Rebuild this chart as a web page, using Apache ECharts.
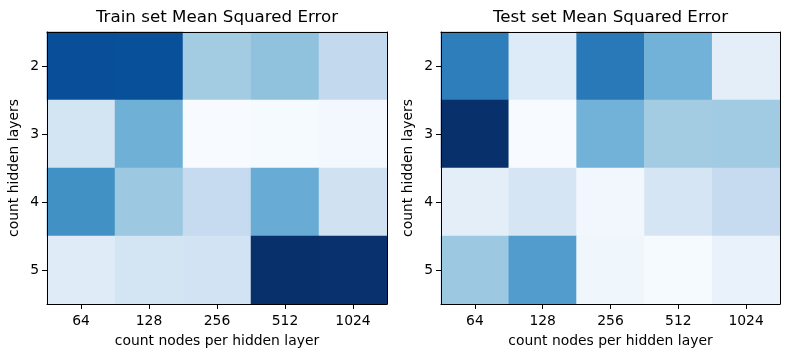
<!DOCTYPE html>
<html><head><meta charset="utf-8">
<script src="https://cdn.jsdelivr.net/npm/echarts@6/dist/echarts.min.js"></script>
<style>html,body{margin:0;padding:0;background:#fff}#c{width:790px;height:357px}</style>
</head><body><div id="c"></div>
<script>
// categories
const nodes = ['64', '128', '256', '512', '1024'];
const layers = ['2', '3', '4', '5'];
// relative MSE values (normalised, rows = hidden layers 2..5, cols = nodes)
const trainMSE = [
  [0.885, 0.88, 0.36, 0.41, 0.26],
  [0.18, 0.49, 0.00, 0.01, 0.02],
  [0.63, 0.38, 0.25, 0.51, 0.20],
  [0.12, 0.18, 0.19, 1.00, 0.995]
];
const testMSE = [
  [0.70, 0.13, 0.72, 0.48, 0.10],
  [1.00, 0.00, 0.48, 0.36, 0.37],
  [0.10, 0.17, 0.03, 0.17, 0.25],
  [0.38, 0.58, 0.04, 0.01, 0.07]
];
const titles = ['Train set Mean Squared Error', 'Test set Mean Squared Error'];
const xName = 'count nodes per hidden layer';
const yName = 'count hidden layers';
const blues = ['#f7fbff','#deebf7','#c6dbef','#9ecae1','#6baed6','#4292c6','#2171b5','#08519c','#08306b'];

function toCells(m) {
  const out = [];
  m.forEach((row, i) => row.forEach((v, j) => out.push([j, i, v])));
  return out;
}
const FONT = 'DejaVu Sans';
const grids = [
  { left: 47, top: 32, width: 340, height: 272 },
  { left: 441, top: 32, width: 339, height: 272 }
];
const mats = [trainMSE, testMSE];
const option = {
  animation: false,
  backgroundColor: '#fff',
  textStyle: { fontFamily: FONT },
  title: grids.map((g, k) => ({
    text: titles[k], left: g.left + g.width / 2, top: 9, textAlign: 'center', padding: 0,
    textStyle: { fontFamily: FONT, fontSize: 16.7, fontWeight: 'normal', color: '#000' }
  })),
  grid: grids,
  xAxis: [],
  yAxis: [],
  visualMap: [],
  series: []
};
grids.forEach((g, k) => {
  const flat = mats[k].flat();
  option.xAxis.push({
    type: 'category', data: nodes, gridIndex: k, position: 'bottom', z: 10,
    name: xName, nameLocation: 'middle', nameGap: 30,
    nameTextStyle: { fontFamily: FONT, fontSize: 13.9, color: '#000' },
    axisLine: { show: true, lineStyle: { color: '#000', width: 1 } },
    axisTick: { show: true, alignWithLabel: true, length: 5, lineStyle: { color: '#000' } },
    axisLabel: { fontFamily: FONT, fontSize: 13.9, color: '#000', margin: 10 },
    splitLine: { show: false }, splitArea: { show: false }
  });
  option.xAxis.push({
    type: 'category', data: nodes, gridIndex: k, position: 'top', z: 10,
    axisLine: { show: true, lineStyle: { color: '#000', width: 1 } },
    axisTick: { show: false }, axisLabel: { show: false },
    splitLine: { show: false }, splitArea: { show: false }
  });
  option.yAxis.push({
    type: 'category', data: layers, gridIndex: k, inverse: true, position: 'left', z: 10,
    name: yName, nameLocation: 'middle', nameGap: 26, nameRotate: 90,
    nameTextStyle: { fontFamily: FONT, fontSize: 13.9, color: '#000' },
    axisLine: { show: true, lineStyle: { color: '#000', width: 1 } },
    axisTick: { show: true, alignWithLabel: true, length: 5, lineStyle: { color: '#000' } },
    axisLabel: { fontFamily: FONT, fontSize: 13.9, color: '#000', margin: 8 },
    splitLine: { show: false }, splitArea: { show: false }
  });
  option.yAxis.push({
    type: 'category', data: layers, gridIndex: k, inverse: true, position: 'right', z: 10,
    axisLine: { show: true, lineStyle: { color: '#000', width: 1 } },
    axisTick: { show: false }, axisLabel: { show: false },
    splitLine: { show: false }, splitArea: { show: false }
  });
  option.visualMap.push({
    show: false, seriesIndex: k, dimension: 2,
    min: Math.min(...flat), max: Math.max(...flat),
    inRange: { color: blues }
  });
  option.series.push({
    type: 'heatmap', xAxisIndex: 2 * k, yAxisIndex: 2 * k,
    data: toCells(mats[k]),
    itemStyle: { borderWidth: 0 },
    emphasis: { disabled: true }
  });
});
const chart = echarts.init(document.getElementById('c'), null, { renderer: 'canvas' });
chart.setOption(option);
</script>
</body></html>
